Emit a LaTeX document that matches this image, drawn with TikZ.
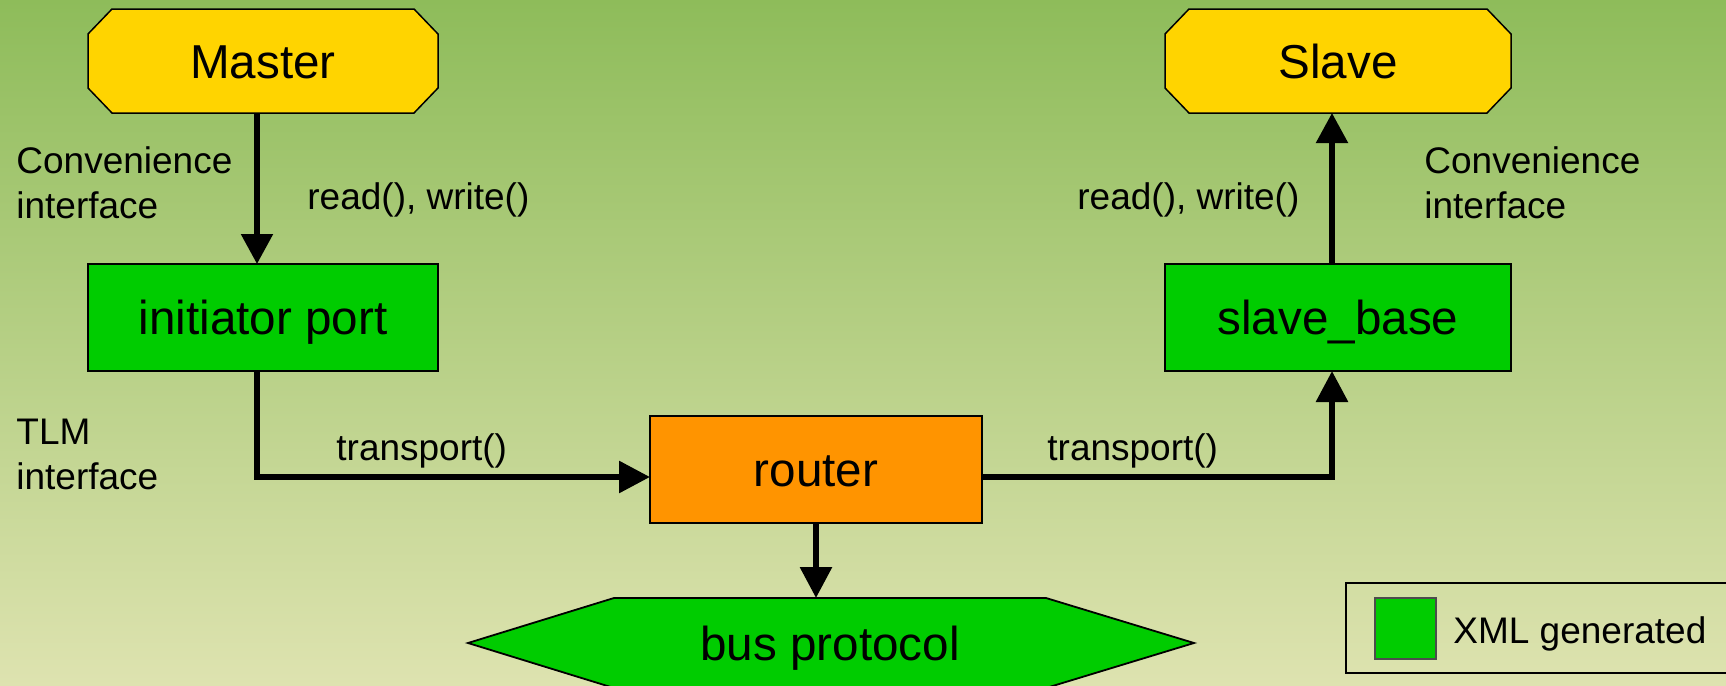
\documentclass[tikz,border=0pt]{standalone}
\usepackage{fontspec}
\setmainfont{Liberation Sans}
\usetikzlibrary{arrows.meta,calc}

\definecolor{bgtop}{RGB}{142,188,90}
\definecolor{bgbot}{RGB}{222,227,176}
\definecolor{gold}{RGB}{255,212,0}
\definecolor{xmlgreen}{RGB}{0,204,0}
\definecolor{routerorange}{RGB}{255,148,0}

\pgfdeclarelayer{bg}
\pgfdeclarelayer{shapes}
\pgfsetlayers{bg,shapes,main}

% chamfered outline around a named node
\newcommand\octpath[1]{%
  \path[octo] ([xshift=12pt]#1.north west) -- ([xshift=-12pt]#1.north east)
    -- ([yshift=-12.5pt]#1.north east) -- ([yshift=12.5pt]#1.south east)
    -- ([xshift=-12pt]#1.south east) -- ([xshift=12pt]#1.south west)
    -- ([yshift=12.5pt]#1.south west) -- ([yshift=-12.5pt]#1.north west) -- cycle;}

\begin{document}
\begin{tikzpicture}[x=0.5pt,y=-0.5pt,
  big/.style={font=\fontsize{23.8}{28}\selectfont, text height=17pt, text depth=0pt,
              inner sep=0pt, outer sep=0pt},
  box/.style={big, draw=black, line width=0.75pt, minimum height=53.5pt},
  octnode/.style={big, minimum height=52pt},
  octo/.style={fill=gold, draw=black, line width=0.75pt},
  lab/.style={font=\fontsize{18.5}{22.5}\selectfont, inner sep=0pt, align=left, anchor=base west},
  arr/.style={line width=2.7pt, -{Triangle[length=15pt,width=15.5pt]}},
  arrb/.style={line width=3pt, -{Triangle[length=15.5pt,width=15.5pt]}},
]
\useasboundingbox (0,0) rectangle (1726,686);
\begin{pgfonlayer}{bg}
  \shade[top color=bgtop, bottom color=bgbot] (0,0) rectangle (1726,686);
\end{pgfonlayer}

% blocks
\node[octnode, minimum width=175pt] (master) at (263,61) {Master};
\node[octnode, minimum width=173pt] (slave) at (1338,61) {Slave};
\node[box, fill=xmlgreen, minimum width=175pt] (init) at (263,317.5) {initiator port};
\node[box, fill=xmlgreen, minimum width=173pt] (sbase) at (1338,317.5) {slave\_base};
\node[box, fill=routerorange, minimum width=166pt] (router) at (816,469.5) {router};
\node[big, minimum width=216pt, minimum height=45pt] (bus) at (830,643) {bus protocol};

\begin{pgfonlayer}{shapes}
  \octpath{master}
  \octpath{slave}
  \path[fill=xmlgreen, draw=black, line width=0.9pt]
    (bus.north west) -- ([xshift=-73pt]bus.west) -- (bus.south west)
    -- (bus.south east) -- ([xshift=74pt]bus.east) -- (bus.north east) -- cycle;
\end{pgfonlayer}

% connectors
\draw[arr] (master.south -| 257,0) -- (init.north -| 257,0);
\draw[arr] (sbase.north -| 1332,0) -- (slave.south -| 1332,0);
\draw[arrb] (init.south -| 257,0) |- (router.west |- 0,477);
\draw[arrb] (router.east |- 0,477) -| (sbase.south -| 1332,0);
\draw[arrb] (router.south) -- (router.south |- bus.north);

% labels (base anchor sits on the last line of a two-line label)
\node[lab] (convl) at (16,218) {Convenience\\interface};
\node[lab] (rwl) at (307,209) {read(), write()};
\node[lab] (convr) at (1424,218) {Convenience\\interface};
\node[lab] (rwr) at (1077,209) {read(), write()};
\node[lab] (tlm) at (16,489) {TLM\\interface};
\node[lab] (trl) at (336,460) {transport()};
\node[lab] (trr) at (1047,460) {transport()};

% legend
\node[draw=black, line width=0.9pt, minimum width=200pt, minimum height=45pt, inner sep=0pt]
  (legend) at (1546,628) {};
\node[draw=black!70, line width=0.6pt, fill=xmlgreen, minimum size=30.5pt, inner sep=0pt]
  (legsq) at (1405.5,628.5) {};
\node[lab] (legtxt) at (1453,643) {XML generated};
\end{tikzpicture}
\end{document}
